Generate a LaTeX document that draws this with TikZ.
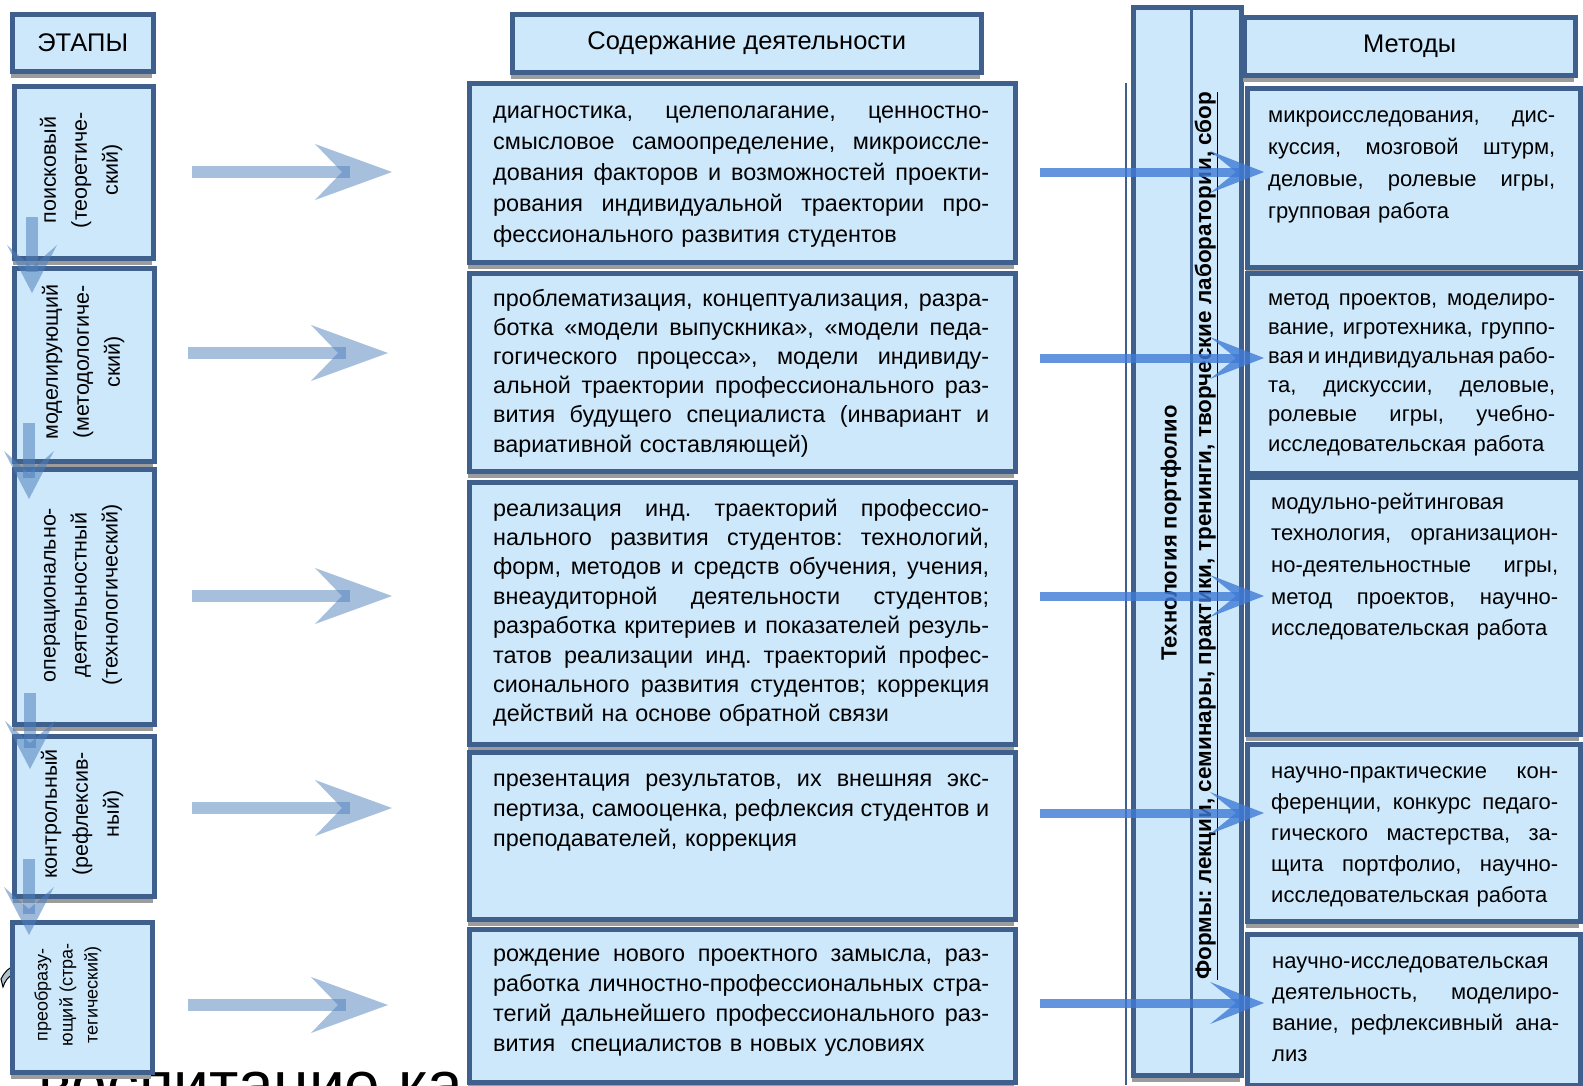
\documentclass[tikz,border=0pt]{standalone}
\usepackage{fontspec}
\setmainfont{Liberation Sans}
\usetikzlibrary{calc}
\definecolor{bfill}{HTML}{CDE8FB}
\definecolor{bdraw}{HTML}{3F5F8C}
\definecolor{shad}{HTML}{9C9C9C}
\definecolor{arrL}{HTML}{4F81BD}
\definecolor{arrR}{HTML}{3F7AD6}
\definecolor{artf}{HTML}{AFC3CF}
\frenchspacing
\newcommand\J[1]{\makebox[\linewidth][s]{\spaceskip=0pt\xspaceskip=0pt\frenchspacing #1}\\}
\newcommand\bx[5]{%
  \fill[shad] (#2+1,#3+9) rectangle (#4+1,#5+9);
  \node[box, anchor=north west, minimum width=#4-#2, minimum height=#5-#3] (#1) at (#2,#3) {};}
\newcommand\bigarr[3]{% x0, y, name
  \coordinate (#3s) at (#1,#2);
  \coordinate (#3e) at (#1+200,#2);
  \fill[arrL, opacity=.5] ($(#3s)+(0,-6)$) rectangle ($(#3s)+(158,6)$);
  \fill[arrL, opacity=.5] ($(#3s)+(123,-28)$) -- (#3e) -- ($(#3s)+(123,28)$) -- ($(#3s)+(150,0)$) -- cycle;}
\newcommand\rarr[2]{% y, name
  \coordinate (#2s) at (1040,#1);
  \coordinate (#2e) at (1264,#1);
  \fill[arrR, opacity=.8] ($(#2s)+(0,-4.5)$) rectangle ($(#2s)+(200,4.5)$);
  \fill[arrR, opacity=.8] ($(#2e)+(-54,-21)$) -- (#2e) -- ($(#2e)+(-54,21)$) -- ($(#2e)+(-28,0)$) -- cycle;}
\newcommand\darr[3]{% x, top, name
  \coordinate (#3s) at (#1,#2);
  \coordinate (#3e) at (#1,#2+76);
  \fill[arrL, opacity=.55] ($(#3s)+(-6,0)$) rectangle ($(#3s)+(6,55)$);
  \fill[arrL, opacity=.55] ($(#3s)+(-25,28)$) -- (#3e) -- ($(#3s)+(25,28)$) -- ($(#3s)+(0,50)$) -- cycle;}
\begin{document}
\begin{tikzpicture}[x=1pt,y=-1pt,
  box/.style={draw=bdraw,line width=4.5pt,fill=bfill,inner sep=0pt},
  mt/.style={anchor=base west,inner sep=0pt,text width=#1,align=left},
  stg/.style={rotate=90,align=center,inner sep=0pt,font=\fontsize{21.5}{31}\selectfont},
  hd/.style={inner sep=0pt,font=\fontsize{25.5}{30}\selectfont}]
\useasboundingbox (0,0) rectangle (1583,1085);
\fill[white] (0,0) rectangle (1583,1085);
\begin{scope}
\clip (0,0) rectangle (1583,1085);
\node[anchor=base west,inner sep=0pt,font=\fontsize{64}{70}\selectfont] (bg) at (38,1106) {воспитание ка};
\end{scope}
\filldraw[fill=artf,draw=black,line width=1pt] (1,979) .. controls (5,971) and (9,968) .. (14,966) -- (17,971) -- (17,1000) -- (12,1000) -- (12,975) .. controls (8,977) and (5,981) .. (3,987) -- cycle;

% left column
\bx{et}{10}{12}{151}{69}
\bx{s1}{12}{84}{151}{256}
\bx{s2}{12}{266}{152}{459}
\bx{s3}{12}{467}{152}{722}
\bx{s4}{12}{734}{152}{894}
\bx{s5}{10}{920}{150}{1070}
\node[hd] (ett) at (et.center) {ЭТАПЫ};
\node[stg] (s1t) at (81,170) {поисковый\\(теоретиче-\\ский)};
\node[stg] (s2t) at (83,362) {моделирующий\\(методологиче-\\ский)};
\node[stg] (s3t) at (83,595) {операционально-\\деятельностный\\(технологический)};
\node[stg] (s4t) at (82,814) {контрольный\\(рефлексив-\\ный)};
\node[stg,font=\fontsize{18}{25}\selectfont] (s5t) at (68,995) {преобразу-\\ющий (стра-\\тегический)};

% middle column
\bx{mh}{510}{12}{979}{70}
\bx{m1}{467}{81}{1013}{260}
\bx{m2}{467}{271}{1013}{469}
\bx{m3}{467}{480}{1013}{742}
\bx{m4}{467}{750}{1013}{917}
\bx{m5}{467}{927}{1013}{1080}
\node[hd] (mht) at (mh.center) {Содержание деятельности};

\node[mt=496pt,font=\fontsize{23.4}{31}\selectfont] (m1t) at (493,118) {%
\J{диагностика, целеполагание, ценностно-}%
\J{смысловое самоопределение, микроиссле-}%
\J{дования факторов и возможностей проекти-}%
\J{рования индивидуальной траектории про-}%
фессионального развития студентов};
\node[mt=496pt,font=\fontsize{23.4}{29.2}\selectfont] (m2t) at (493,306) {%
\J{проблематизация, концептуализация, разра-}%
\J{ботка «модели выпускника», «модели педа-}%
\J{гогического процесса», модели индивиду-}%
\J{альной траектории профессионального раз-}%
\J{вития будущего специалиста (инвариант и}%
вариативной составляющей)};
\node[mt=496pt,font=\fontsize{23.4}{29.4}\selectfont] (m3t) at (493,516) {%
\J{реализация инд. траекторий профессио-}%
\J{нального развития студентов: технологий,}%
\J{форм, методов и средств обучения, учения,}%
\J{внеаудиторной деятельности студентов;}%
\J{разработка критериев и показателей резуль-}%
\J{татов реализации инд. траекторий профес-}%
\J{сионального развития студентов; коррекция}%
действий на основе обратной связи};
\node[mt=496pt,font=\fontsize{23.4}{30}\selectfont] (m4t) at (493,786) {%
\J{презентация результатов, их внешняя экс-}%
\J{пертиза, самооценка, рефлексия студентов и}%
преподавателей, коррекция};
\node[mt=496pt,font=\fontsize{23.4}{30.3}\selectfont] (m5t) at (493,961) {%
\J{рождение нового проектного замысла, раз-}%
\J{работка личностно-профессиональных стра-}%
\J{тегий дальнейшего профессионального раз-}%
вития \ специалистов в новых условиях};

% vertical bar
\draw[bdraw,line width=1.5pt] (1126,83) -- (1126,1085);
\bx{bar}{1131}{5}{1239}{1073}
\coordinate (dvt) at (1191,5);
\coordinate (dvb) at (1191,1073);
\draw[bdraw,line width=3pt] (dvt) -- (dvb);
\node[rotate=90,inner sep=0pt,font=\bfseries\fontsize{22}{26}\selectfont] (tp) at (1171,533) {Технология портфолио};
\node[rotate=90,anchor=base west,inner sep=0pt,font=\bfseries\fontsize{22.5}{26}\selectfont] (fm) at (1211,980) {\underline{Формы: лекции, семинары, практики, тренинги, творческие лаборатории, сбор}};

% right column
\bx{rh}{1242}{15}{1573}{73}
\bx{r1}{1245}{86}{1578}{265}
\bx{r2}{1245}{271}{1578}{471}
\bx{r3}{1245}{475}{1578}{732}
\bx{r4}{1245}{742}{1578}{919}
\bx{r5}{1245}{932}{1578}{1083}
\node[hd] (rht) at (rh.center) {Методы};

\node[mt=287pt,font=\fontsize{22}{32}\selectfont] (r1t) at (1268,122) {%
\J{микроисследования, дис-}%
\J{куссия, мозговой штурм,}%
\J{деловые, ролевые игры,}%
групповая работа};
\node[mt=287pt,font=\fontsize{22}{29.2}\selectfont] (r2t) at (1268,305) {%
\J{метод проектов, моделиро-}%
\J{вание, игротехника, группо-}%
\J{вая и индивидуальная рабо-}%
\J{та, дискуссии, деловые,}%
\J{ролевые игры, учебно-}%
исследовательская работа};
\node[mt=287pt,font=\fontsize{22}{31.7}\selectfont] (r3t) at (1271,509) {%
модульно-рейтинговая\\
\J{технология, организацион-}%
\J{но-деятельностные игры,}%
\J{метод проектов, научно-}%
исследовательская работа};
\node[mt=287pt,font=\fontsize{22}{31}\selectfont] (r4t) at (1271,778) {%
\J{научно-практические кон-}%
\J{ференции, конкурс педаго-}%
\J{гического мастерства, за-}%
\J{щита портфолио, научно-}%
исследовательская работа};
\node[mt=287pt,font=\fontsize{22}{31.3}\selectfont] (r5t) at (1272,968) {%
научно-исследовательская\\
\J{деятельность, моделиро-}%
\J{вание, рефлексивный ана-}%
лиз};

% arrows
\bigarr{192}{172}{la1}
\bigarr{188}{353}{la2}
\bigarr{192}{596}{la3}
\bigarr{192}{808}{la4}
\bigarr{188}{1005}{la5}
\rarr{172}{ra1}
\rarr{358}{ra2}
\rarr{596}{ra3}
\rarr{813}{ra4}
\rarr{1003}{ra5}
\darr{32}{217}{da1}
\darr{29}{423}{da2}
\darr{30}{693}{da3}
\darr{29}{859}{da4}
\end{tikzpicture}
\end{document}
